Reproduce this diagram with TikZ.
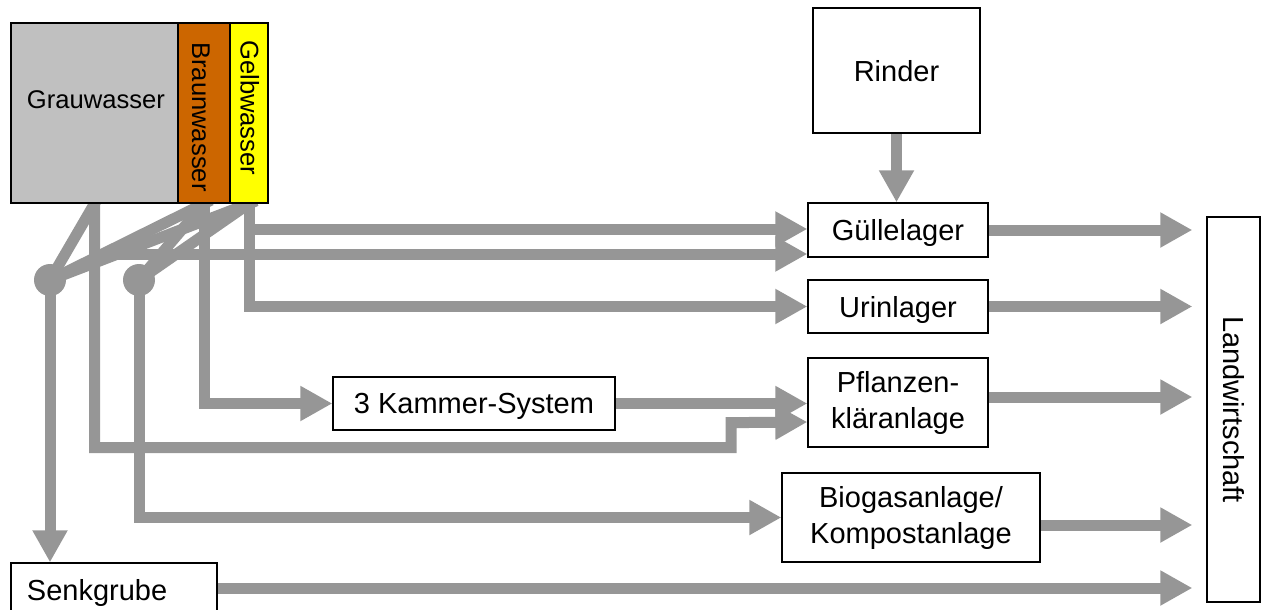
\documentclass[tikz,border=0pt]{standalone}
\usepackage{fontspec}
\setmainfont{Liberation Sans}
\usetikzlibrary{arrows.meta,backgrounds}
\definecolor{flowgray}{RGB}{150,150,150}
\definecolor{graufill}{RGB}{192,192,192}
\definecolor{braunfill}{RGB}{204,102,0}
\definecolor{gelbfill}{RGB}{255,255,0}
\begin{document}
\begin{tikzpicture}[x=1pt,y=-1pt,
  box/.style={draw=black, line width=1.3pt, fill=white, rectangle, inner sep=0pt,
    font=\fontsize{29}{36}\selectfont, align=center},
  onebox/.style={box, text depth=0pt},
  water/.style={draw=black, line width=1.3pt, rectangle, inner sep=0pt, minimum height=180pt},
  wlabel/.style={inner sep=0pt, text depth=0pt, font=\fontsize{25.6}{30}\selectfont},
  link/.style={draw=flowgray, line width=11pt},
  flow/.style={link, -{Triangle[length=32pt,width=33pt]}},
  junction/.style={circle, fill=flowgray, minimum size=32pt, inner sep=0pt}
]
\useasboundingbox (0,0) rectangle (1262,610);
\clip (0,0) rectangle (1262,610);

% sources: grey, brown and yellow water
\node[water, fill=graufill, minimum width=167pt] (grau) at (94.5,113) {};
\node[water, fill=braunfill, minimum width=52pt] (braun) at (204,113) {};
\node[water, fill=gelbfill, minimum width=38pt] (gelb) at (249,113) {};
\node[wlabel] (grau-t) at (96,100) {Grauwasser};
\node[wlabel, rotate=-90, anchor=west] (braun-t) at (201,42) {Braunwasser};
\node[wlabel, rotate=-90, anchor=west] (gelb-t) at (250,40) {Gelbwasser};

% junctions where the streams are mixed
\node[junction] (j1) at (50,280) {};
\node[junction] (j2) at (139,280) {};

% treatment and storage
\node[onebox, minimum width=167pt, minimum height=125pt] (rind) at (896.5,70.5) {Rinder};
\node[onebox, minimum width=180pt, minimum height=54pt] (gl) at (898,230) {Güllelager};
\node[onebox, minimum width=180pt, minimum height=53pt] (ur) at (898,306.5) {Urinlager};
\node[box, minimum width=180pt, minimum height=89pt] (pk) at (898,402.5) {Pflanzen-\\kläranlage};
\node[box, minimum width=258pt, minimum height=89pt] (bio) at (911,517.5) {Biogasanlage/\\Kompostanlage};
\node[onebox, minimum width=282pt, minimum height=53pt] (kam) at (474,403.5) {3 Kammer-System};
\node[onebox, minimum height=53pt, inner xsep=16pt, text width=174pt, align=left] (senk) at (114,589.5) {Senkgrube};

% agriculture
\node[box, minimum width=53pt, minimum height=385pt] (lw) at (1233.5,409.5) {};
\node[rotate=-90, inner sep=0pt, text depth=0pt, font=\fontsize{29}{36}\selectfont] (lw-t) at (lw.center) {Landwirtschaft};

\begin{scope}[on background layer]
  % mixing lines into the junctions
  \draw[link, shorten <=-8pt] (grau.south) -- (j1.center);
  \draw[link, shorten <=-8pt] (braun.south) -- (j1.center);
  \draw[link, shorten <=-8pt] (gelb.south) -- (j1.center);
  \draw[link, shorten <=-8pt] (braun.south) -- (j2.center);
  \draw[link, shorten <=-8pt] (gelb.south) -- (j2.center);
  % flows from the sources
  \draw[flow] (j1.center) -- (j1.center |- senk.north);
  \draw[flow] (j2.center) |- (bio.west);
  \draw[flow] (grau.south) |- ([yshift=-24pt]gl.west);
  \draw[flow] (grau.south) -- ++(0,244) -- ++(636.5,0) -- ++(0,-25) -- ([yshift=-19.5pt]pk.west);
  \draw[flow] (braun.south) |- (kam.west);
  \draw[flow] (gelb.south) |- ([yshift=1pt]gl.west);
  \draw[flow] (gelb.south) |- (ur.west);
  \draw[flow] (kam.east) -- (kam.east -| pk.west);
  \draw[flow] (rind.south) -- (rind.south |- gl.north);
  % outputs to agriculture
  \draw[flow, shorten >=14pt] (gl.east) -- (gl.east -| lw.west);
  \draw[flow, shorten >=14pt] (ur.east) -- (ur.east -| lw.west);
  \draw[flow, shorten >=14pt] ([yshift=5.5pt]pk.east) -- ([yshift=5.5pt]pk.east -| lw.west);
  \draw[flow, shorten >=14pt] ([yshift=-7.5pt]bio.east) -- ([yshift=-7.5pt]bio.east -| lw.west);
  \draw[flow, shorten >=14pt] ([yshift=1.5pt]senk.east) -- ([yshift=1.5pt]senk.east -| lw.west);
\end{scope}
\end{tikzpicture}
\end{document}
